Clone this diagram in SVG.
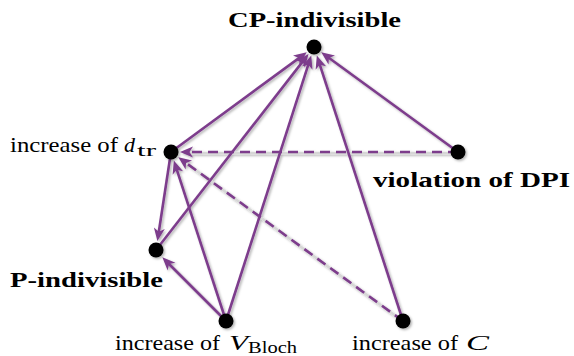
<svg xmlns="http://www.w3.org/2000/svg" width="574" height="356" viewBox="0 0 574 356">
<defs>
<style>
.e{fill:none;stroke:#7d3c8c;stroke-width:2.6;marker-end:url(#ah)}
.d{stroke-dasharray:10 6}
.g{fill:none;stroke:#d6d6d6;stroke-width:2.5}
.n{fill:#000;filter:url(#sh)}
.t{font-family:"Liberation Serif","Times New Roman",serif;font-size:22px;fill:#000}
.b{font-weight:bold}
.i{font-style:italic}
.s{font-size:16px}
</style>
<filter id="sh" filterUnits="userSpaceOnUse" x="0" y="0" width="574" height="356">
<feDropShadow dx="1.5" dy="1.5" stdDeviation="1" flood-color="#000" flood-opacity="0.3"/>
</filter>
<marker id="ah" viewBox="-6 -7 16 14" markerWidth="16" markerHeight="14" refX="0" refY="0" orient="auto" markerUnits="userSpaceOnUse">
<path d="M8,0 L-5,-5.5 L-1.5,0 L-5,5.5 Z" fill="#7d3c8c"/>
</marker>
</defs>
<g id="connectors" filter="url(#sh)">
<path class="g" d="M459,153 L189,153"/>
<path class="g" d="M404,322 L186,163"/>
<path class="e" d="M171,152 L300.3,57.1"/>
<path class="e" d="M156,250 L303.6,60.4"/>
<path class="e" d="M226,321 L308.8,63.2"/>
<path class="e" d="M403,321 L319.3,63.2"/>
<path class="e" d="M458,152 L327.7,57"/>
<path class="e d" d="M458,152 L188,152"/>
<path class="e d" d="M403,321 L184.8,162"/>
<path class="e" d="M226,321 L176.3,168.2"/>
<path class="e" d="M171,152 L158.6,233.2"/>
<path class="e" d="M226,321 L168,263"/>
</g>
<g id="cp">
<circle class="n" cx="314" cy="47" r="7.5"/>
<text class="t b" x="228" y="27" textLength="173" lengthAdjust="spacingAndGlyphs">CP-indivisible</text>
</g>
<g id="dtr">
<circle class="n" cx="171" cy="152" r="7.5"/>
<text class="t" x="10" y="152" textLength="108" lengthAdjust="spacingAndGlyphs">increase of</text>
<text class="t i" x="124" y="152">d</text>
<text class="t s" x="137" y="156" textLength="19" lengthAdjust="spacingAndGlyphs">tr</text>
</g>
<g id="dpi">
<circle class="n" cx="458" cy="152" r="7.5"/>
<text class="t b" x="373" y="187" textLength="197" lengthAdjust="spacingAndGlyphs">violation of DPI</text>
</g>
<g id="pind">
<circle class="n" cx="156" cy="250" r="7.5"/>
<text class="t b" x="10" y="287" textLength="153" lengthAdjust="spacingAndGlyphs">P-indivisible</text>
</g>
<g id="vbloch">
<circle class="n" cx="226" cy="321" r="7.5"/>
<text class="t" x="115" y="350" textLength="105" lengthAdjust="spacingAndGlyphs">increase of</text>
<text class="t i" x="229" y="350" textLength="19" lengthAdjust="spacingAndGlyphs">V</text>
<text class="t s" x="248" y="353" textLength="49" lengthAdjust="spacingAndGlyphs">Bloch</text>
</g>
<g id="cnode">
<circle class="n" cx="403" cy="321" r="7.5"/>
<text class="t" x="352" y="350" textLength="106" lengthAdjust="spacingAndGlyphs">increase of</text>
<text class="t i" x="466" y="350" textLength="23" lengthAdjust="spacingAndGlyphs">C</text>
</g>
</svg>
